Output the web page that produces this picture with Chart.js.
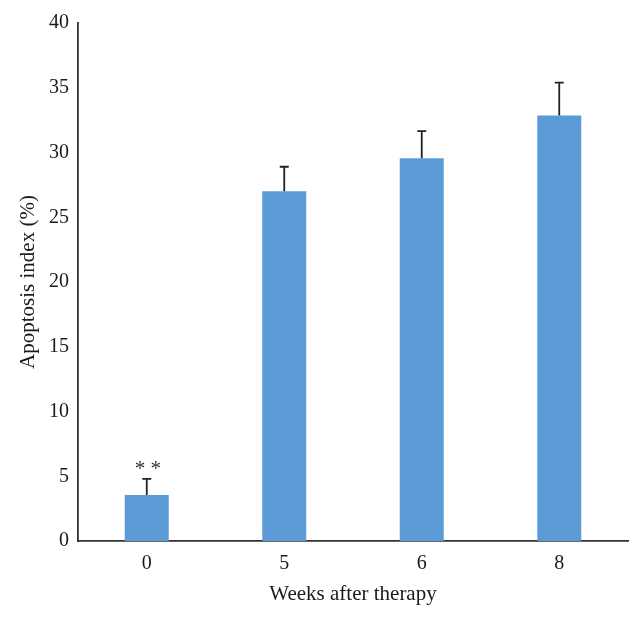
<!DOCTYPE html>
<html>
<head>
<meta charset="utf-8">
<script src="https://cdn.jsdelivr.net/npm/chart.js@4/dist/chart.umd.min.js"></script>
<style>
  html, body { margin: 0; padding: 0; background: #fff; }
  #wrap { width: 642px; height: 619px; position: relative; }
</style>
</head>
<body>
<div id="wrap"><canvas id="c" width="642" height="619"></canvas></div>
<script>
const categories = ['0', '5', '6', '8'];
const apoptosisIndex = [3.55, 27.0, 29.55, 32.85];
const errorUp = [1.25, 1.9, 2.1, 2.55];
const significance = ['**', '', '', ''];
const yTicks = [0, 5, 10, 15, 20, 25, 30, 35, 40];

const FONT = "'Liberation Serif', 'DejaVu Serif', serif";
const AXIS_COLOR = '#333333';

const errorBarPlugin = {
  id: 'errorBars',
  afterDatasetsDraw(chart) {
    const ctx = chart.ctx;
    const meta = chart.getDatasetMeta(0);
    const y = chart.scales.y;
    ctx.save();
    ctx.strokeStyle = '#222222';
    ctx.lineWidth = 1.8;
    meta.data.forEach((bar, i) => {
      const x = bar.x;
      const top = y.getPixelForValue(apoptosisIndex[i] + errorUp[i]);
      ctx.beginPath();
      ctx.moveTo(x, bar.y);
      ctx.lineTo(x, top);
      ctx.moveTo(x - 4.5, top);
      ctx.lineTo(x + 4.5, top);
      ctx.stroke();
      if (significance[i]) {
        ctx.fillStyle = '#333333';
        ctx.font = '21px ' + FONT;
        ctx.textAlign = 'center';
        ctx.textBaseline = 'middle';
        ctx.fillText(significance[i].split('').join(' '), x + 1, top - 9);
      }
    });
    ctx.restore();
  }
};

new Chart(document.getElementById('c'), {
  type: 'bar',
  data: {
    labels: categories,
    datasets: [{
      data: apoptosisIndex,
      backgroundColor: '#5B9BD5',
      borderWidth: 0,
      barPercentage: 0.32,
      categoryPercentage: 1.0
    }]
  },
  options: {
    responsive: false,
    animation: false,
    events: [],
    layout: { padding: { left: 0, right: 14, top: 23, bottom: 0 } },
    plugins: { legend: { display: false }, tooltip: { enabled: false } },
    scales: {
      x: {
        grid: { display: false, drawTicks: false },
        border: { display: true, color: AXIS_COLOR, width: 1.8 },
        ticks: { color: '#1a1a1a', font: { family: FONT, size: 20 }, padding: 11 },
        title: {
          display: true, text: 'Weeks after therapy', color: '#1a1a1a',
          font: { family: FONT, size: 21 }, padding: { top: 0, bottom: 12 }
        },
        afterFit(scale) { scale.height = 78; }
      },
      y: {
        min: 0, max: 40,
        afterBuildTicks(scale) { scale.ticks = yTicks.map(v => ({ value: v })); },
        grid: { display: false, drawTicks: false },
        border: { display: true, color: AXIS_COLOR, width: 1.8 },
        ticks: { color: '#1a1a1a', font: { family: FONT, size: 20 }, padding: 9 },
        title: {
          display: true, text: 'Apoptosis index (%)', color: '#1a1a1a',
          font: { family: FONT, size: 21 }, padding: { top: 16, bottom: 0 }
        },
        afterFit(scale) { scale.width = 78; }
      }
    }
  },
  plugins: [errorBarPlugin]
});
</script>
</body>
</html>
